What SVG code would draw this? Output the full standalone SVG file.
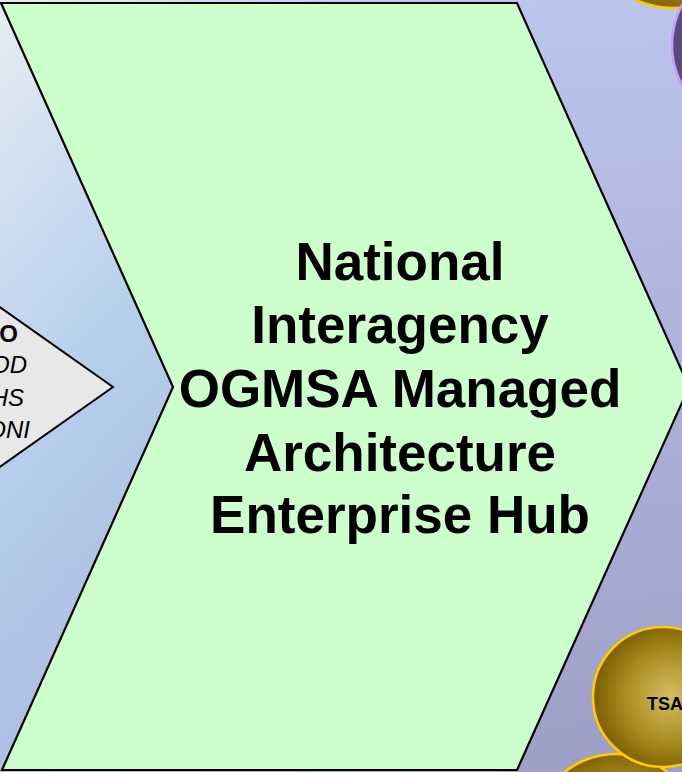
<svg xmlns="http://www.w3.org/2000/svg" width="682" height="772" viewBox="0 0 682 772">
<defs>
<linearGradient id="bg" x1="0" y1="0" x2="1" y2="1">
<stop offset="0" stop-color="#E6EDF4"/>
<stop offset="0.3" stop-color="#B6CFEC"/>
<stop offset="0.6" stop-color="#AAB6E0"/>
<stop offset="1" stop-color="#9C9CC4"/>
</linearGradient>
<linearGradient id="bg2" x1="0" y1="0" x2="0" y2="1">
<stop offset="0" stop-color="#BCC6EE" stop-opacity="0.9"/>
<stop offset="1" stop-color="#9E9EC6" stop-opacity="0.9"/>
</linearGradient>
<radialGradient id="gold" cx="0.55" cy="0.5" r="0.55">
<stop offset="0" stop-color="#D6BE60"/>
<stop offset="0.6" stop-color="#A88A20"/>
<stop offset="1" stop-color="#7A5E00"/>
</radialGradient>
<style>
.main{font-family:"Liberation Sans",Arial,sans-serif;font-weight:bold;font-size:53px;fill:#000;text-anchor:middle}
.side{font-family:"Liberation Sans",Arial,sans-serif;font-size:24px;fill:#000;text-anchor:end}
.goldc{fill:url(#gold);stroke:#FFCC00;stroke-width:2.5}
</style>
</defs>
<rect x="0" y="0" width="682" height="772" fill="url(#bg)"/>
<rect x="500" y="0" width="182" height="772" fill="url(#bg2)"/>
<g id="circle-top">
<circle class="goldc" cx="672" cy="-77" r="85"/>
</g>
<g id="circle-purple">
<circle cx="757" cy="45" r="85" fill="#5A4A7C" stroke="#CC99FF" stroke-width="2.5"/>
</g>
<g id="circle-bottom">
<circle class="goldc" cx="616" cy="836" r="82"/>
</g>
<g id="circle-tsa">
<circle class="goldc" cx="663" cy="697" r="70"/>
<text x="665" y="710" style="font-family:'Liberation Sans',Arial,sans-serif;font-weight:bold;font-size:18px;text-anchor:middle">TSA</text>
</g>
<g id="left-node">
<polygon points="-40,279 113,387 -40,495" fill="#E8E8E8" stroke="#000" stroke-width="2"/>
<text class="side" x="18" y="342" font-weight="bold">O</text>
<text class="side" x="27" y="373" font-style="italic">OD</text>
<text class="side" x="24" y="406" font-style="italic">HS</text>
<text class="side" x="30" y="438" font-style="italic">ONI</text>
</g>
<g id="hub">
<polygon points="1,3 517,3 689,387 517,770 2,770 173,387" fill="#CCFFCC" stroke="#000" stroke-width="2.2"/>
<text class="main" x="400" y="280">National</text>
<text class="main" x="400" y="343">Interagency</text>
<text class="main" x="400" y="407">OGMSA Managed</text>
<text class="main" x="400" y="471">Architecture</text>
<text class="main" x="400" y="533">Enterprise Hub</text>
</g>
<g id="connectors"></g>
</svg>
